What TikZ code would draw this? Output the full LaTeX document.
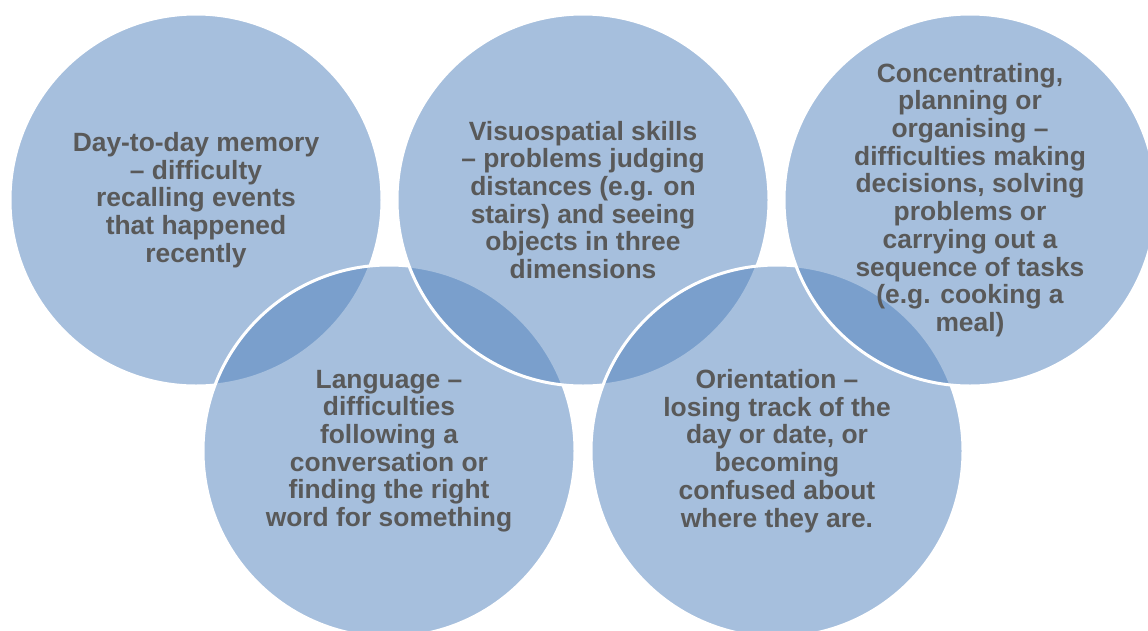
\documentclass[tikz,border=0pt]{standalone}
\usepackage{fontspec}
\setmainfont{Liberation Sans}
\definecolor{accent}{HTML}{4F81BD}
\definecolor{txtgray}{HTML}{595959}
\begin{document}
\begin{tikzpicture}[x=1pt,y=-1pt,
  venn/.style={circle, minimum size=372pt, inner sep=0pt, fill=accent, fill opacity=0.5, draw=white, draw opacity=1, line width=3pt},
  lbl/.style={align=center, text=txtgray, font=\fontsize{26.4}{27.7}\selectfont\bfseries, inner sep=0pt}]
\clip (0,0) rectangle (1148,630);
\fill[white] (0,0) rectangle (1148,630);
% circles (drawing order as in the reference)
\node[venn] (c1) at (196,200) {};
\node[venn] (c4) at (389,451) {};
\node[venn] (c2) at (583,200) {};
\node[venn] (c5) at (777,451) {};
\node[venn] (c3) at (970,200) {};
% labels
\node[lbl] (t1) at (c1.center) {Day-to-day memory\\– difficulty\\recalling events\\that happened\\recently};
\node[lbl] (t2) at (c2.center) {Visuospatial skills\\– problems judging\\distances (e.g. on\\stairs) and seeing\\objects in three\\dimensions};
\node[lbl] (t3) at (c3.center) {Concentrating,\\planning or\\organising –\\difficulties making\\decisions, solving\\problems or\\carrying out a\\sequence of tasks\\(e.g. cooking a\\meal)};
\node[lbl] (t4) at (c4.center) {Language –\\difficulties\\following a\\conversation or\\finding the right\\word for something};
\node[lbl] (t5) at (c5.center) {Orientation –\\losing track of the\\day or date, or\\becoming\\confused about\\where they are.};
\end{tikzpicture}
\end{document}
